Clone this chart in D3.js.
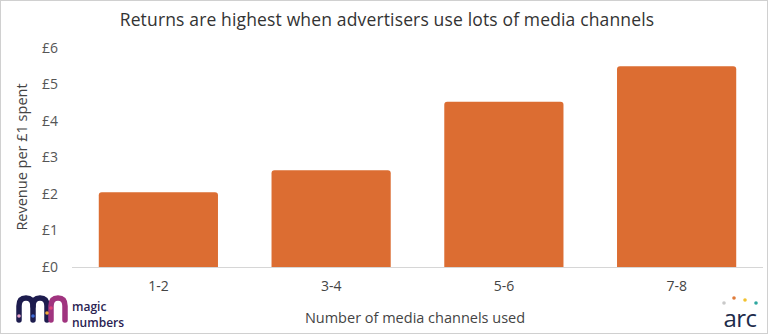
<!DOCTYPE html>
<html><head><meta charset="utf-8">
<script src="https://cdn.jsdelivr.net/npm/d3@7"></script>
<style>body{margin:0;background:#fff}svg{display:block}</style>
</head><body><svg id="c" width="768" height="334"></svg>
<script>
const categories = ["1-2","3-4","5-6","7-8"];
const values = [2.05, 2.65, 4.53, 5.5];
const yTicks = [0,1,2,3,4,5,6];
const tickLabels = ["£0","£1","£2","£3","£4","£5","£6"];
const title = "Returns are highest when advertisers use lots of media channels";
const xTitle = "Number of media channels used";
const yTitle = "Revenue per £1 spent";

const svg = d3.select("#c");
const font = "'Open Sans', Lato, sans-serif";
svg.append("rect").attr("x",0.5).attr("y",0.5).attr("width",767).attr("height",333)
  .attr("fill","#fff").attr("stroke","#d0d0d0");

const x = d3.scaleBand().domain(categories).range([72,763]).paddingInner(0.31).paddingOuter(0.155);
const y = d3.scaleLinear().domain([0,6]).range([267,48]);

svg.append("text").attr("x",387).attr("y",26).attr("text-anchor","middle")
  .attr("font-family",font).attr("font-size",17.5).attr("letter-spacing",0.15).attr("fill","#333").text(title);

const yAxis = d3.axisLeft(y).tickValues(yTicks).tickFormat((d,i)=>tickLabels[i]).tickSize(0).tickPadding(0);
const ga = svg.append("g").attr("transform","translate(58,0)").call(yAxis);
ga.select(".domain").remove();
ga.selectAll("text").attr("font-family",font).attr("font-size",14).attr("fill","#555");

svg.append("line").attr("x1",72).attr("x2",763).attr("y1",y(0)+0.5).attr("y2",y(0)+0.5)
  .attr("stroke","#d6d6d6").attr("stroke-width",1.2);

svg.selectAll("path.bar").data(values).join("path").attr("class","bar")
  .attr("fill","#DC6D32")
  .attr("d",(d,i)=>{
    const x0=x(categories[i]), w=x.bandwidth(), y0=y(d), y1=y(0), r=3;
    return `M${x0},${y1}V${y0+r}Q${x0},${y0} ${x0+r},${y0}H${x0+w-r}Q${x0+w},${y0} ${x0+w},${y0+r}V${y1}Z`;
  });

const xAxis = d3.axisBottom(x).tickSize(0).tickPadding(0);
const gx = svg.append("g").attr("transform","translate(0,281)").call(xAxis);
gx.select(".domain").remove();
gx.selectAll("text").attr("font-family",font).attr("font-size",14).attr("fill","#444");

svg.append("text").attr("x",415).attr("y",323).attr("text-anchor","middle")
  .attr("font-family",font).attr("font-size",14.5).attr("fill","#444").text(xTitle);

svg.append("text").attr("transform","translate(27,157) rotate(-90)").attr("text-anchor","middle")
  .attr("font-family",font).attr("font-size",14.5).attr("fill","#444").text(yTitle);

// magic numbers logo
const lg = svg.append("g").attr("fill","none").attr("stroke-linecap","round").attr("stroke-width",5.5);
lg.append("path").attr("d","M19,320V306Q19,298 26,298Q33,298 33,306V320").attr("stroke","#1d1c4e");
lg.append("path").attr("d","M33,306Q33,298 40,298Q47,298 47,306V320").attr("stroke","#1d1c4e");
lg.append("path").attr("d","M51,320V306Q51,298 58,298Q65,298 65,306V320").attr("stroke","#a0347f");
const dots=[[19,316,"#e9a3c9"],[33,316,"#3d6bd6"],[47,313,"#f2a93b"],[51,308,"#e0457b"]];
svg.selectAll("circle.md").data(dots).join("circle").attr("class","md")
  .attr("cx",d=>d[0]).attr("cy",d=>d[1]).attr("r",1.8).attr("fill",d=>d[2]);
svg.append("text").attr("x",72).attr("y",311).attr("font-family",font).attr("font-weight",600)
  .attr("font-size",12).attr("fill","#2a2352").text("magic");
svg.append("text").attr("x",72).attr("y",327).attr("font-family",font).attr("font-weight",600)
  .attr("font-size",12).attr("fill","#2a2352").text("numbers");

// arc logo
svg.append("text").attr("x",740).attr("y",327).attr("text-anchor","middle").attr("font-family",font)
  .attr("font-size",24).attr("font-weight",500).attr("fill","#1d2b4a").attr("letter-spacing",-0.5).text("arc");
const adots=[[724,303,"#c9c9c9"],[734,298,"#e07b39"],[745,300,"#f2c230"],[756,303,"#2fa7a0"]];
svg.selectAll("circle.ad").data(adots).join("circle").attr("class","ad")
  .attr("cx",d=>d[0]).attr("cy",d=>d[1]).attr("r",1.8).attr("fill",d=>d[2]);
</script></body></html>
